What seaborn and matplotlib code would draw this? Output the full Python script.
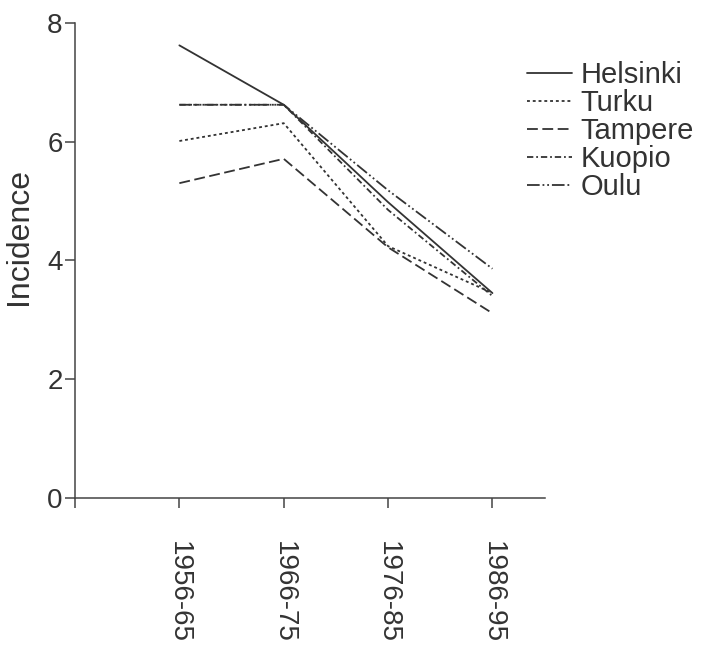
import matplotlib
matplotlib.use("Agg")
import matplotlib.pyplot as plt
import seaborn as sns
import pandas as pd
import numpy as np

periods = ["1956-65", "1966-75", "1976-85", "1986-95"]
cities = ["Helsinki", "Turku", "Tampere", "Kuopio", "Oulu"]
helsinki = [7.62, 6.62, 4.98, 3.45]
turku = [6.01, 6.31, 4.24, 3.45]
tampere = [5.30, 5.71, 4.22, 3.11]
kuopio = [6.62, 6.62, 4.85, 3.40]
oulu = [6.62, 6.62, 5.18, 3.86]
values = [helsinki, turku, tampere, kuopio, oulu]

rows = []
for c, vals in zip(cities, values):
    for p, v in zip(periods, vals):
        rows.append({"period": p, "incidence": v, "city": c})
df = pd.DataFrame(rows)

sns.set_style("white")
plt.rcParams["font.family"] = ["Liberation Sans", "DejaVu Sans"]

fig = plt.figure(figsize=(7.03, 6.51), dpi=100)
ax = fig.add_axes([0.1067, 0.235, 0.668, 0.73])

line_col = "#333333"
dashes = {
    "Helsinki": "",
    "Turku": (1.6, 1.6),
    "Tampere": (6, 2.5),
    "Kuopio": (3.5, 1.6, 1, 1.6),
    "Oulu": (7, 1.6, 1, 1.6, 1, 1.6),
}
sns.lineplot(data=df, x="period", y="incidence", hue="city", style="city",
             hue_order=cities, style_order=cities,
             palette=[line_col] * 5, dashes=dashes, linewidth=1.3,
             ax=ax, legend=True)

ax.set_xlim(-1, 3.5)
ax.set_ylim(0, 8)
ax.set_yticks([0, 2, 4, 6, 8])
ax.set_xticks([-1, 0, 1, 2, 3], [""] + periods)
ax.set_xlabel("")
ax.set_ylabel("Incidence", fontsize=23, color="#333333")
ax.yaxis.set_label_coords(-0.088, 0.55)
for s in ["top", "right"]:
    ax.spines[s].set_visible(False)
for s in ["left", "bottom"]:
    ax.spines[s].set_color("#444444")
    ax.spines[s].set_linewidth(1.1)
ax.tick_params(axis="both", direction="out", length=7, width=1.1,
               color="#444444", labelsize=20, labelcolor="#333333", pad=2,
               left=True, bottom=True)
for lab in ax.get_xticklabels():
    lab.set_rotation(270)
    lab.set_va("top")
    lab.set_ha("center")
ax.tick_params(axis="x", pad=24)

sns.move_legend(ax, "upper left", bbox_to_anchor=(0.749, 0.906),
                bbox_transform=fig.transFigure, frameon=False, title=None,
                fontsize=21, handlelength=1.55, handletextpad=0.3,
                labelspacing=0.0, borderpad=0, borderaxespad=0)
for t in ax.get_legend().get_texts():
    t.set_color("#333333")

fig.savefig("out.png", dpi=100)
